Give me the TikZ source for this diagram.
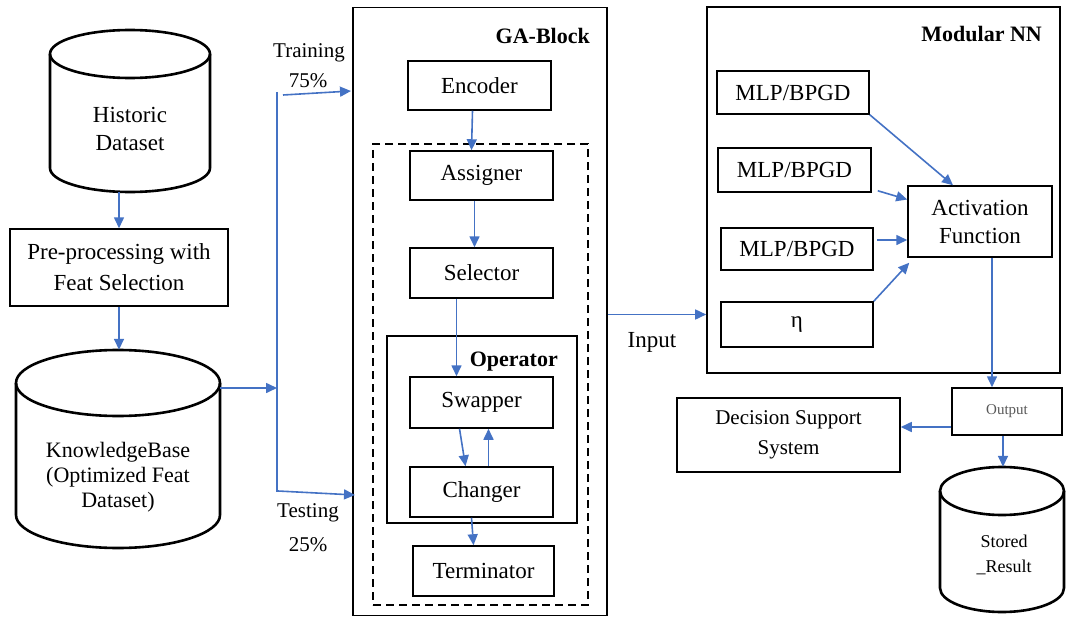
\documentclass[tikz,border=0pt]{standalone}
\usepackage{fontspec}
\setmainfont{LiberationSerif}[Extension=.ttf,UprightFont=*-Regular,BoldFont=*-Bold,ItalicFont=*-Italic,BoldItalicFont=*-BoldItalic]
\usetikzlibrary{arrows.meta,calc}
\definecolor{arrblue}{RGB}{68,114,196}
\begin{document}
\begin{tikzpicture}[x=1pt,y=-1pt,
  box/.style 2 args={draw=black,line width=1.5pt,inner sep=0pt,minimum width=#1,minimum height=#2,align=center,font=\fontsize{23}{27}\selectfont},
  frame/.style 2 args={draw=black,line width=1.6pt,inner sep=0pt,minimum width=#1,minimum height=#2},
  ghost/.style 2 args={inner sep=0pt,minimum width=#1,minimum height=#2},
  txt/.style={inner sep=0pt,align=center,font=\fontsize{23}{28}\selectfont},
  btxt/.style={inner sep=0pt,font=\fontsize{22}{26}\selectfont\bfseries},
  cyl/.style={draw=black,line width=2.6pt},
  arr/.style={draw=arrblue,line width=1.6pt,-{Triangle[length=11pt,width=10pt]}},
  pline/.style={draw=arrblue,line width=1.6pt}]
\useasboundingbox (0,0) rectangle (1066,618);

% ---------- cylinders ----------
% Historic Dataset
\draw[cyl] (130,54) ellipse [x radius=80, y radius=24];
\draw[cyl] (50,54) -- (50,168) arc[start angle=180,end angle=0,x radius=80,y radius=24] -- (210,54);
\node[ghost={160pt}{162pt}] (hist) at (130,111) {};
\node[txt] (histT) at (130,129) {Historic\\Dataset};

% KnowledgeBase
\draw[cyl] (118,383) ellipse [x radius=102, y radius=33];
\draw[cyl] (16,383) -- (16,515) arc[start angle=180,end angle=0,x radius=102,y radius=33] -- (220,383);
\node[ghost={204pt}{198pt}] (kb) at (118,449) {};
\node[txt,font=\fontsize{22}{25}\selectfont] (kbT) at (118,477) {KnowledgeBase\\(Optimized Feat\\Dataset)};

% Stored Result
\draw[cyl] (1002,491) ellipse [x radius=62, y radius=24];
\draw[cyl] (940,491) -- (940,588) arc[start angle=180,end angle=0,x radius=62,y radius=24] -- (1064,491);
\node[ghost={124pt}{145pt}] (stored) at (1002,539.5) {};
\node[txt,font=\fontsize{18}{25}\selectfont] (storedT) at (1004,555) {Stored\\\_Result};

% ---------- left boxes ----------
\node[box={218pt}{77pt},font=\fontsize{23}{31}\selectfont] (pre) at (119,267.5) {Pre-processing with\\Feat Selection};

% ---------- GA block ----------
\node[frame={254pt}{608pt}] (ga) at (480,311.5) {};
\node[draw=black,line width=1.6pt,dash pattern=on 8pt off 5pt,inner sep=0pt,minimum width=215pt,minimum height=461pt] (dash) at (480.5,374.5) {};
\node[frame={190pt}{187pt}] (op) at (482,429.5) {};
\node[btxt,anchor=east] (gaL) at (590,36) {GA-Block};
\node[btxt,anchor=east] (opL) at (558,362) {Operator};

\node[box={143pt}{49pt}] (enc) at (479.5,85.5) {Encoder};
\node[box={143pt}{49pt}] (asg) at (481.5,175.5) {Assigner};
\node[box={143pt}{50pt}] (sel) at (481.5,273) {Selector};
\node[box={143pt}{51pt}] (swp) at (481.5,402.5) {Swapper};
\node[box={143pt}{50pt}] (chg) at (481.5,492) {Changer};
\node[box={141pt}{50pt}] (term) at (483.5,571) {Terminator};

% ---------- Modular NN ----------
\node[frame={353pt}{366pt}] (mnn) at (883.5,190) {};
\node[btxt,anchor=east] (mnnL) at (1042,34) {Modular NN};
\node[box={152pt}{43pt}] (mlp1) at (793,92.5) {MLP/BPGD};
\node[box={153pt}{44pt}] (mlp2) at (794.5,170) {MLP/BPGD};
\node[box={152pt}{42pt}] (mlp3) at (797,249) {MLP/BPGD};
\node[box={152pt}{45pt}] (eta) at (797,324.5) {η};
\node[box={144pt}{71pt},font=\fontsize{23}{28}\selectfont] (act) at (980,221.5) {Activation\\Function};

\node[box={110pt}{47pt},font=\fontsize{15}{18}\selectfont,text=black!65] (out) at (1007,411.5) {Output};
\node[box={223pt}{74pt},font=\fontsize{21}{30}\selectfont] (dss) at (788.5,435) {Decision Support\\System};

% ---------- labels ----------
\node[txt,font=\fontsize{21}{26}\selectfont] (trL) at (309,53) {Training};
\node[txt,font=\fontsize{21}{26}\selectfont] (trP) at (308,81) {75\%};
\node[txt,font=\fontsize{21}{26}\selectfont] (teL) at (308,513) {Testing};
\node[txt,font=\fontsize{21}{26}\selectfont] (teP) at (308,545) {25\%};
\node[txt] (inL) at (652,342) {Input};

% ---------- connectors ----------
\coordinate (vtop) at (277,92);
\coordinate (vbot) at (277,492);
\coordinate (vmid) at (277,388);
\coordinate (trS) at (283,95);
\coordinate (trE) at (351,91);
\coordinate (teS) at (278,491);
\coordinate (teE) at (355,495);

\draw[arr] (hist.south -| pre.north) -- (pre.north);
\draw[arr] (pre.south) -- (pre.south |- kb.north);
\draw[pline] (vtop) -- (vbot);
\draw[arr] (kb.east |- vmid) -- (vmid);
\draw[arr] (trS) -- (trE);
\draw[arr] (teS) -- (teE);

\draw[arr] ([xshift=-7pt]enc.south) -- ([xshift=-10pt]asg.north);
\draw[arr] ([xshift=-7pt]asg.south) -- ([xshift=-7pt]sel.north);
\draw[arr] ([xshift=-25pt]sel.south) -- ([xshift=-25pt]swp.north);
\draw[arr] ([xshift=-22pt]swp.south) -- ([xshift=-16pt]chg.north);
\draw[arr] ([xshift=7pt]chg.north) -- ([xshift=7pt]swp.south);
\draw[arr] ([xshift=-10pt]chg.south) -- ([xshift=-10pt]term.north);

\draw[arr] ([yshift=-3pt]ga.east) -- ([yshift=-3pt]ga.east -| mnn.west);

\draw[arr] (mlp1.south east) -- ([xshift=-27pt]act.north);
\draw[arr] ([shift={(6pt,2pt)}]mlp2.south east) -- ([yshift=22pt]act.west);
\draw[arr] ([shift={(3pt,9pt)}]mlp3.east) -- ([yshift=9pt]mlp3.east -| act.west);
\draw[arr] (eta.north east) -- ([shift={(2pt,-5pt)}]act.south west);

\draw[arr] ([xshift=12pt]act.south) -- ([xshift=12pt]act.south |- out.north);
\draw[arr] ([yshift=-15.5pt]out.west) -- ([yshift=-15.5pt]out.west -| dss.east);
\draw[arr] ([xshift=-4pt]out.south) -- ([xshift=-4pt]out.south |- stored.north);
\end{tikzpicture}
\end{document}
